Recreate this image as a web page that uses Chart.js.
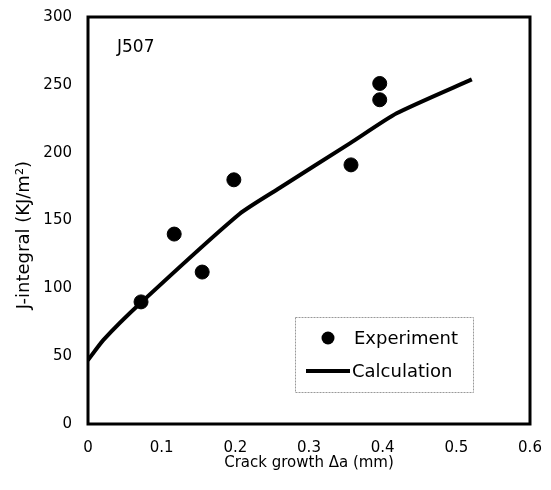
<!DOCTYPE html>
<html>
<head>
<meta charset="utf-8">
<script src="https://cdn.jsdelivr.net/npm/chart.js@4"></script>
<style>
  body { margin: 0; background: #fff; }
  #wrap { width: 551px; height: 490px; }
</style>
</head>
<body>
<div id="wrap"><canvas id="myChart" width="551" height="490"></canvas></div>
<script>
// experiment points (crack growth mm, J kJ/m2)
const expX = [0.072, 0.117, 0.155, 0.198, 0.357, 0.396, 0.396];
const expY = [90, 140, 112, 180, 191, 251, 239];
// calculation curve
const calcX = [0, 0.021, 0.071, 0.206, 0.26, 0.356, 0.419, 0.521];
const calcY = [47, 62, 89, 155, 174, 207, 229, 254];

const xTicks = [0, 0.1, 0.2, 0.3, 0.4, 0.5, 0.6];
const yTicks = [0, 50, 100, 150, 200, 250, 300];

const font = "'DejaVu Sans', sans-serif";

// frame, y title, label and legend drawn on top
const extras = {
  id: 'extras',
  afterDatasetsDraw(chart) {
    const c = chart.ctx, a = chart.chartArea;
    c.save();
    c.strokeStyle = '#000';
    c.lineWidth = 3;
    c.strokeRect(a.left, a.top, a.right - a.left, a.bottom - a.top);

    c.fillStyle = '#000';
    c.textBaseline = 'alphabetic';

    // y title
    c.save();
    c.translate(29, 235);
    c.rotate(-Math.PI / 2);
    c.textAlign = 'center';
    c.font = '18px ' + font;
    c.fillText('J-integral (KJ/m\u00b2)', 0, 0);
    c.restore();

    c.font = '17px ' + font;
    c.fillText('J507', 117, 52);

    // legend box
    c.strokeStyle = '#999';
    c.lineWidth = 1;
    c.setLineDash([2, 1]);
    c.strokeRect(295.5, 317.5, 178, 75);
    c.setLineDash([]);
    c.beginPath();
    c.arc(328, 338, 6.5, 0, Math.PI * 2);
    c.fill();
    c.lineWidth = 4;
    c.strokeStyle = '#000';
    c.beginPath();
    c.moveTo(306, 371);
    c.lineTo(350, 371);
    c.stroke();
    c.font = '18px ' + font;
    c.fillText('Experiment', 354, 344);
    c.fillText('Calculation', 352, 377);
    c.restore();
  }
};

new Chart(document.getElementById('myChart'), {
  type: 'scatter',
  data: {
    datasets: [{
      label: 'Experiment',
      data: expX.map((x, i) => ({ x: x, y: expY[i] })),
      backgroundColor: '#000',
      borderColor: '#000',
      pointRadius: 7,
      pointHoverRadius: 7
    }, {
      label: 'Calculation',
      type: 'line',
      data: calcX.map((x, i) => ({ x: x, y: calcY[i] })),
      borderColor: '#000',
      borderWidth: 4,
      pointRadius: 0,
      fill: false,
      tension: 0.2
    }]
  },
  options: {
    responsive: false,
    animation: false,
    layout: { padding: { top: 16, right: 21, left: 0, bottom: 0 } },
    plugins: { legend: { display: false }, tooltip: { enabled: false } },
    scales: {
      x: {
        type: 'linear', min: 0, max: 0.6,
        afterBuildTicks: s => { s.ticks = xTicks.map(v => ({ value: v })); },
        afterFit: s => { s.height = 66; },
        grid: { display: false },
        border: { display: false },
        ticks: { color: '#000', padding: 7, font: { family: font, size: 15 },
                 callback: v => String(v) },
        title: { display: true, text: 'Crack growth \u0394a (mm)', color: '#000',
                 font: { family: font, size: 15 }, padding: { top: 0, bottom: 18 } }
      },
      y: {
        type: 'linear', min: 0, max: 300,
        afterBuildTicks: s => { s.ticks = yTicks.map(v => ({ value: v })); },
        afterFit: s => { s.width = 88; },
        grid: { display: false },
        border: { display: false },
        ticks: { color: '#000', padding: 8, font: { family: font, size: 15 } },
        title: { display: false }
      }
    }
  },
  plugins: [extras]
});
</script>
</body>
</html>
